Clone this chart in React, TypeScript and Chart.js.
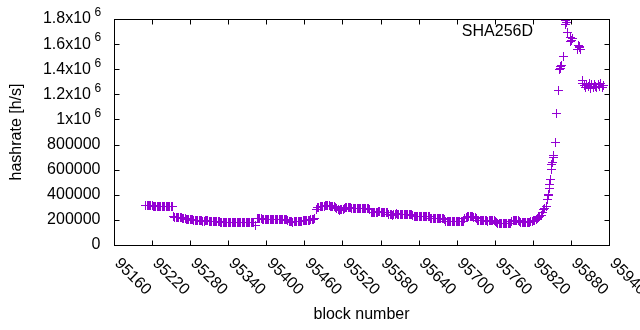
import React, { useEffect, useRef } from 'react';
import { Chart, registerables } from 'chart.js';

Chart.register(...registerables);

// ---- data ----
const seriesLabel = 'SHA256D';
const xTitle = 'block number';
const yTitle = 'hashrate [h/s]';

const blocks = [
  95210, 95212, 95214, 95216, 95218, 95220, 95222, 95224, 95226, 95228,
  95230, 95232, 95234, 95236, 95238, 95240, 95242, 95244, 95246, 95248,
  95250, 95252,
  95254, 95256, 95258, 95260, 95262, 95264, 95266, 95268, 95270, 95272,
  95274, 95276, 95278, 95280, 95282, 95284, 95286, 95288, 95290, 95292,
  95294, 95296, 95298, 95300, 95302, 95304, 95306, 95308, 95310, 95312,
  95314, 95316, 95318, 95320, 95322, 95324, 95326, 95328, 95330, 95332,
  95334, 95336, 95338, 95340, 95342, 95344, 95346, 95348, 95350, 95352,
  95354, 95356, 95358, 95360, 95362, 95364, 95366, 95368, 95370, 95372,
  95374, 95376, 95378, 95380, 95383,
  95386, 95388, 95390, 95392, 95394, 95396, 95398, 95400, 95402, 95404,
  95406, 95408, 95410, 95412, 95414, 95416, 95418, 95420, 95422, 95424,
  95426, 95428, 95430, 95432,
  95434, 95436, 95438, 95440, 95442, 95444, 95446, 95448, 95450, 95452,
  95454, 95456, 95458, 95460, 95462, 95464, 95466, 95468, 95470, 95472,
  95474, 95476, 95479,
  95481, 95483, 95485, 95487, 95489, 95491, 95493, 95495, 95497, 95499,
  95501, 95503, 95505, 95507, 95509, 95511, 95513, 95515, 95517, 95519,
  95521,
  95523, 95525, 95527, 95529, 95531, 95533, 95535, 95537, 95539, 95541,
  95543, 95545, 95547, 95549, 95551, 95553, 95555, 95557, 95559, 95561,
  95563,
  95565, 95567, 95569, 95571, 95573, 95575, 95577, 95579, 95581, 95583,
  95585, 95587, 95589, 95591, 95593, 95595, 95597, 95599, 95601, 95603,
  95605, 95607, 95609, 95611, 95613, 95615, 95617, 95619, 95621, 95623,
  95625, 95627, 95629, 95631, 95633, 95635, 95637, 95639, 95641, 95643,
  95645, 95647, 95649, 95651, 95653, 95655, 95657, 95659, 95661, 95663,
  95665, 95667, 95669, 95671, 95673, 95675, 95677, 95679, 95681, 95683,
  95685, 95687, 95689, 95691, 95693, 95695, 95697, 95699, 95701, 95703,
  95705, 95707, 95709, 95711, 95713, 95715, 95717, 95719, 95721, 95723,
  95725, 95727, 95729, 95731, 95733, 95735, 95737, 95739, 95741, 95743,
  95745, 95747, 95749, 95751, 95753, 95755, 95757, 95759, 95761, 95763,
  95765, 95767, 95769, 95771, 95773, 95775, 95777, 95779, 95781, 95783,
  95785, 95787, 95789, 95791, 95793, 95795, 95797, 95799, 95801, 95803,
  95805, 95807, 95809, 95811, 95813, 95815,
  95817, 95819, 95821, 95823, 95825, 95827, 95829, 95831, 95833, 95835,
  95837, 95839, 95841, 95843, 95844, 95845, 95846, 95847, 95848, 95849,
  95850, 95851, 95852, 95853, 95855, 95858, 95860, 95862, 95863, 95864,
  95865, 95868, 95871, 95872, 95873, 95874, 95879, 95880, 95881, 95882,
  95891, 95892, 95893, 95894, 95895, 95898, 95899,
  95901, 95903, 95905, 95907, 95909, 95911, 95913, 95915,
  95917, 95919, 95921, 95923, 95925, 95927, 95929, 95931,
];

const hashrate = [
  318000, 317000, 316000, 316000, 315000, 313000, 310000, 308000, 307000, 306000,
  306000, 305000, 305000, 306000, 305000, 305000, 306000, 305000, 305000, 306000,
  305000, 307000,
  225000, 223000, 221000, 220000, 219000, 218000, 217000, 215000, 212000, 210000,
  207000, 205000, 204000, 203000, 202000, 200000, 198000, 197000, 196000, 194000,
  195000, 196000, 193000, 191000, 190000, 193000, 194000, 192000, 189000, 188000,
  190000, 187000, 185000, 184000, 187000, 188000, 184000, 181000, 180000, 182000,
  179000, 177000, 176000, 177000, 178000, 180000, 179000, 177000, 176000, 177000,
  179000, 180000, 179000, 178000, 180000, 181000, 182000, 180000, 179000, 178000,
  180000, 181000, 182000, 180000, 155000,
  210000, 209000, 208000, 208000, 207000, 206000, 206000, 205000, 205000, 206000,
  205000, 205000, 204000, 204000, 205000, 206000, 205000, 204000, 205000, 204000,
  203000, 202000, 201000, 200000,
  192000, 189000, 187000, 185000, 183000, 184000, 186000, 189000, 188000, 185000,
  188000, 191000, 195000, 193000, 192000, 196000, 197000, 199000, 200000, 201000,
  203000, 215000, 280000,
  298000, 302000, 305000, 307000, 309000, 310000, 311000, 312000, 312000, 311000,
  310000, 308000, 307000, 305000, 300000, 290000, 283000, 278000, 279000, 282000,
  285000,
  294000, 296000, 298000, 298000, 297000, 295000, 294000, 294000, 293000, 292000,
  292000, 292000, 291000, 290000, 291000, 290000, 290000, 290000, 289000, 288000,
  285000,
  258000, 256000, 255000, 255000, 257000, 262000, 263000, 263000, 262000, 261000,
  260000, 262000, 261000, 259000, 242000, 241000, 240000, 238000, 243000, 246000,
  247000, 246000, 245000, 246000, 245000, 245000, 246000, 245000, 245000, 244000,
  245000, 246000, 245000, 236000, 230000, 229000, 230000, 229000, 228000, 228000,
  229000, 230000, 229000, 228000, 229000, 228000, 226000, 214000, 213000, 213000,
  214000, 213000, 212000, 213000, 214000, 213000, 212000, 211000, 205000, 188000,
  187000, 186000, 185000, 186000, 187000, 186000, 185000, 184000, 186000, 187000,
  188000, 186000, 188000, 190000, 215000, 222000, 226000, 228000, 227000, 226000,
  224000, 223000, 222000, 215000, 198000, 195000, 193000, 192000, 193000, 194000,
  193000, 192000, 190000, 192000, 193000, 192000, 193000, 194000, 190000, 178000,
  175000, 173000, 172000, 173000, 174000, 173000, 172000, 173000, 172000, 173000,
  175000, 190000, 198000, 197000, 196000, 196000, 195000, 190000, 182000, 178000,
  177000, 177000, 178000, 177000, 176000, 178000,
  185000, 190000, 195000, 198000, 203000, 210000, 216000, 225000, 238000, 262000,
  279000, 292000, 305000, 360000, 395000, 405000, 450000, 480000, 518000, 600000,
  640000, 660000, 700000, 710000, 820000, 1050000, 1228000, 1395000, 1420000, 1405000,
  1428000, 1505000, 1760000, 1790000, 1775000, 1798000, 1620000, 1650000, 1630000, 1645000,
  1555000, 1590000, 1570000, 1582000, 1560000, 1310000, 1290000,
  1270000, 1255000, 1280000, 1262000, 1285000, 1250000, 1275000, 1258000,
  1282000, 1265000, 1252000, 1278000, 1260000, 1284000, 1256000, 1272000,
];

const xTicks = [95160, 95220, 95280, 95340, 95400, 95460, 95520, 95580, 95640, 95700, 95760, 95820, 95880, 95940];
const yTicks = [0, 200000, 400000, 600000, 800000, 1000000, 1200000, 1400000, 1600000, 1800000];
const yTickLabels = ['0', '200000', '400000', '600000', '800000', '1x10', '1.2x10', '1.4x10', '1.6x10', '1.8x10'];
const yTickExponents = ['', '', '', '', '', '6', '6', '6', '6', '6'];

const FONT = "'Liberation Sans', Arial, Helvetica, sans-serif";
const PURPLE = '#9400d3';

function makeCross(): HTMLCanvasElement {
  const c = document.createElement('canvas');
  c.width = 9;
  c.height = 9;
  const g = c.getContext('2d')!;
  g.fillStyle = PURPLE;
  g.fillRect(4, 0, 1, 9);
  g.fillRect(0, 4, 9, 1);
  return c;
}

const crispPlugin = {
  id: 'crispPoints',
  beforeDatasetsDraw(chart: any) {
    chart.ctx.imageSmoothingEnabled = false;
  },
  afterDatasetsDraw(chart: any) {
    chart.ctx.imageSmoothingEnabled = true;
  },
};

const framePlugin = {
  id: 'gnuplotFrame',
  afterDraw(chart: any) {
    const { ctx, chartArea: a, scales } = chart;
    const xs = scales.x;
    const ys = scales.y;
    ctx.save();
    ctx.strokeStyle = '#000';
    ctx.lineWidth = 1;
    const L = Math.round(a.left) + 0.5;
    const R = Math.round(a.right) + 0.5;
    const T = Math.round(a.top) + 0.5;
    const B = Math.round(a.bottom) + 0.5;
    ctx.strokeRect(L, T, R - L, B - T);
    const tl = 5;
    ctx.beginPath();
    xTicks.forEach((v) => {
      const px = Math.round(xs.getPixelForValue(v)) + 0.5;
      ctx.moveTo(px, B);
      ctx.lineTo(px, B - tl);
      ctx.moveTo(px, T);
      ctx.lineTo(px, T + tl);
    });
    yTicks.forEach((v) => {
      const py = Math.round(ys.getPixelForValue(v)) + 0.5;
      ctx.moveTo(L, py);
      ctx.lineTo(L + tl, py);
      ctx.moveTo(R, py);
      ctx.lineTo(R - tl, py);
    });
    ctx.stroke();

    ctx.fillStyle = '#000';
    ctx.textBaseline = 'middle';
    yTicks.forEach((v, i) => {
      const py = ys.getPixelForValue(v);
      const exp = yTickExponents[i];
      ctx.font = `16px ${FONT}`;
      ctx.textAlign = 'right';
      ctx.fillText(yTickLabels[i], exp ? a.left - 23 : a.left - 13.5, py);
      if (exp) {
        ctx.font = `12px ${FONT}`;
        ctx.textAlign = 'left';
        ctx.fillText(exp, a.left - 19.5, py - 6);
      }
    });

    ctx.font = `16px ${FONT}`;
    ctx.textAlign = 'left';
    ctx.textBaseline = 'middle';
    xTicks.forEach((v) => {
      const px = xs.getPixelForValue(v);
      ctx.save();
      ctx.translate(px + 3, a.bottom + 16);
      ctx.rotate(Math.PI / 4);
      ctx.fillText(String(v), 0, 0);
      ctx.restore();
    });

    // key
    ctx.textAlign = 'right';
    ctx.fillText(seriesLabel, a.right - 76, a.top + 13);
    ctx.fillStyle = PURPLE;
    const kx = Math.round(a.right - 42);
    const ky = Math.round(a.top + 13);
    ctx.fillRect(kx - 4, ky, 9, 1);
    ctx.fillRect(kx, ky - 4, 1, 9);
    ctx.restore();
  },
};

export default function App() {
  const canvasRef = useRef<HTMLCanvasElement | null>(null);

  useEffect(() => {
    if (!canvasRef.current) return;
    Chart.defaults.font.family = FONT;
    Chart.defaults.font.size = 16;
    Chart.defaults.color = '#000';
    const cross = makeCross();
    const data = blocks.map((b, i) => ({ x: b, y: hashrate[i] }));
    const chart = new Chart(canvasRef.current, {
      type: 'scatter',
      data: {
        datasets: [
          {
            label: seriesLabel,
            data,
            pointStyle: cross as any,
            pointRadius: 4,
            pointHoverRadius: 4,
            pointBorderWidth: 1,
            borderColor: PURPLE,
            backgroundColor: PURPLE,
            showLine: false,
          },
        ],
      },
      options: {
        responsive: false,
        animation: false,
        devicePixelRatio: 1,
        events: [],
        layout: { padding: { top: 19, right: 31, left: 0, bottom: 0 } },
        plugins: { legend: { display: false }, tooltip: { enabled: false } },
        scales: {
          x: {
            type: 'linear',
            min: 95160,
            max: 95940,
            grid: { display: false },
            border: { display: false },
            ticks: { display: false, stepSize: 60 },
            title: {
              display: true,
              text: xTitle,
              color: '#000',
              font: { size: 16, family: FONT },
              padding: { top: 0, bottom: 6 },
            },
            afterFit: (s: any) => {
              s.height = 85;
            },
          },
          y: {
            type: 'linear',
            min: 0,
            max: 1800000,
            grid: { display: false },
            border: { display: false },
            ticks: { display: false, stepSize: 200000 },
            title: {
              display: true,
              text: yTitle,
              color: '#000',
              font: { size: 16, family: FONT },
              padding: { top: 7, bottom: 0 },
            },
            afterFit: (s: any) => {
              s.width = 114;
            },
          },
        },
      },
      plugins: [crispPlugin, framePlugin],
    });
    return () => chart.destroy();
  }, []);

  return (
    <div style={{ position: 'fixed', left: 0, top: 0, width: 640, height: 330, background: '#fff' }}>
      <canvas ref={canvasRef} width={640} height={330} style={{ display: 'block' }} />
    </div>
  );
}
